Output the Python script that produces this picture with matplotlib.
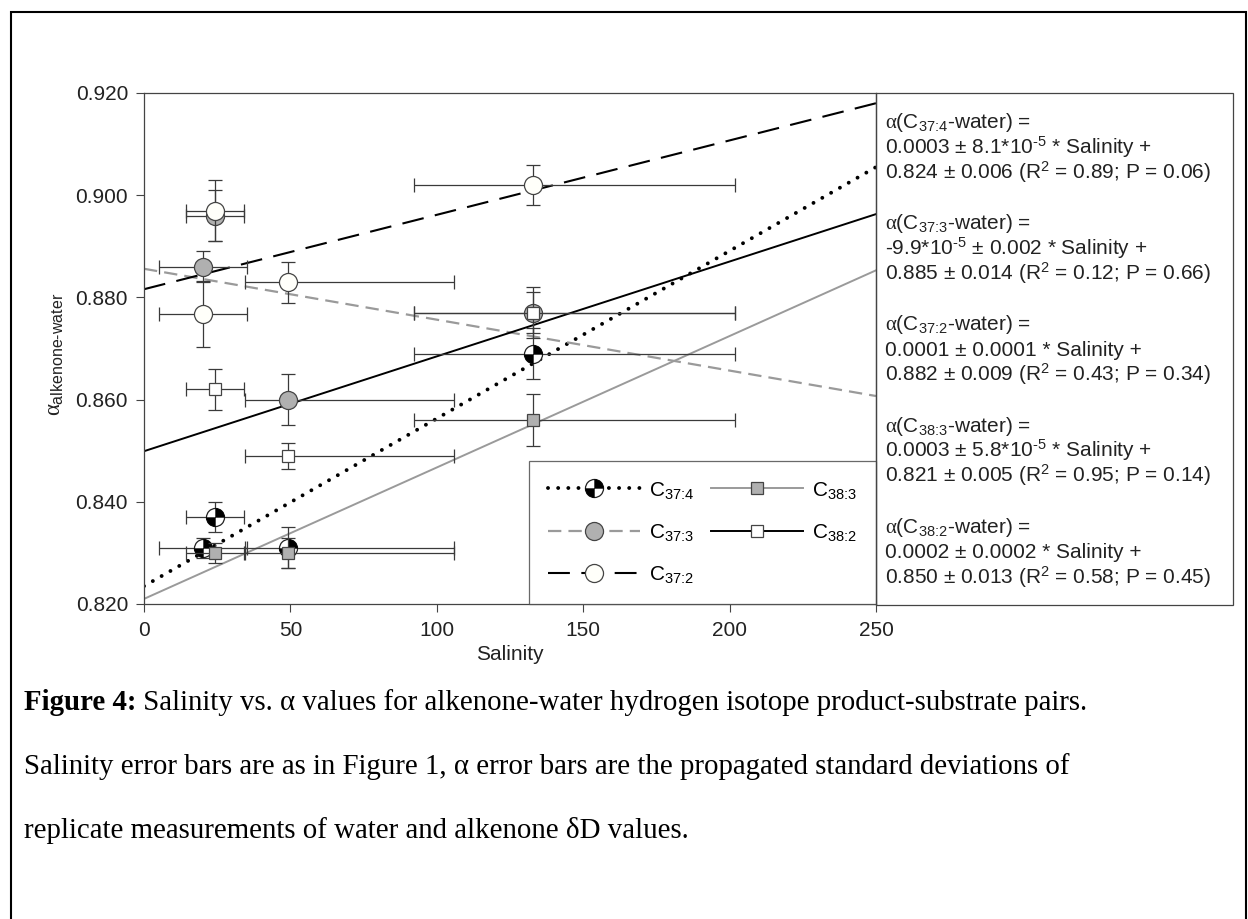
import matplotlib
matplotlib.use('Agg')
import matplotlib.pyplot as plt
from matplotlib.path import Path
from matplotlib.lines import Line2D
from matplotlib.patches import Rectangle
from matplotlib.legend_handler import HandlerTuple

plt.rcParams['font.family'] = ['Liberation Sans', 'DejaVu Sans']
plt.rcParams['mathtext.fontset'] = 'custom'
plt.rcParams['mathtext.rm'] = 'Liberation Sans'
plt.rcParams['mathtext.it'] = 'Liberation Serif'
plt.rcParams['mathtext.bf'] = 'Liberation Sans:bold'

# ---------------- data ----------------
sal_c37 = [20.2, 24.2, 49.2, 132.9]
sal_c38 = [24.2, 49.2, 132.9]
sal_err_lo_c37 = [15.0, 10.0, 14.7, 40.7]
sal_err_hi_c37 = [15.0, 10.0, 56.8, 69.0]
sal_err_lo_c38 = [10.0, 14.7, 40.7]
sal_err_hi_c38 = [10.0, 56.8, 69.0]

alpha_c374 = [0.831, 0.837, 0.831, 0.869]
err_c374 = [0.002, 0.003, 0.004, 0.005]
alpha_c373 = [0.886, 0.896, 0.860, 0.877]
err_c373 = [0.003, 0.005, 0.005, 0.005]
alpha_c372 = [0.8767, 0.897, 0.883, 0.902]
err_c372 = [0.0065, 0.006, 0.004, 0.004]
alpha_c383 = [0.830, 0.830, 0.856]
err_c383 = [0.002, 0.003, 0.005]
alpha_c382 = [0.862, 0.849, 0.877]
err_c382 = [0.004, 0.0025, 0.004]

fit_x = [0, 250]
fit_c374 = [0.8235, 0.9055]
fit_c373 = [0.8856, 0.8607]
fit_c372 = [0.8816, 0.9180]
fit_c383 = [0.8210, 0.8853]
fit_c382 = [0.8499, 0.8963]

legend_labels = [r'C$_{\text{37:4}}$', r'C$_{\text{37:3}}$', r'C$_{\text{37:2}}$',
                 r'C$_{\text{38:3}}$', r'C$_{\text{38:2}}$']

x_ticks = [0, 50, 100, 150, 200, 250]
y_ticks = [0.820, 0.840, 0.860, 0.880, 0.900, 0.920]

equation_lines = [
    r'$\alpha$(C$_{\text{37:4}}$-water) =',
    r'0.0003 ± 8.1*10$^{\text{-5}}$ * Salinity +',
    r'0.824 ± 0.006 (R$^{2}$ = 0.89; P = 0.06)',
    '',
    r'$\alpha$(C$_{\text{37:3}}$-water) =',
    r'-9.9*10$^{\text{-5}}$ ± 0.002 * Salinity +',
    r'0.885 ± 0.014 (R$^{2}$ = 0.12; P = 0.66)',
    '',
    r'$\alpha$(C$_{\text{37:2}}$-water) =',
    r'0.0001 ± 0.0001 * Salinity +',
    r'0.882 ± 0.009 (R$^{2}$ = 0.43; P = 0.34)',
    '',
    r'$\alpha$(C$_{\text{38:3}}$-water) =',
    r'0.0003 ± 5.8*10$^{\text{-5}}$ * Salinity +',
    r'0.821 ± 0.005 (R$^{2}$ = 0.95; P = 0.14)',
    '',
    r'$\alpha$(C$_{\text{38:2}}$-water) =',
    r'0.0002 ± 0.0002 * Salinity +',
    r'0.850 ± 0.013 (R$^{2}$ = 0.58; P = 0.45)',
]

caption_bold = 'Figure 4:'
caption_lines = [
    ' Salinity vs. α values for alkenone-water hydrogen isotope product-substrate pairs.',
    'Salinity error bars are as in Figure 1, α error bars are the propagated standard deviations of',
    'replicate measurements of water and alkenone δD values.',
]

# ---------------- figure ----------------
W, H = 1248, 919
fig = plt.figure(figsize=(W / 100, H / 100), dpi=100)
ax = fig.add_axes([144 / W, 1 - 604 / H, 732 / W, 511 / H])

EC = '#3a3a3a'
GRAY_FILL = '#b0b0b0'
GRAY_LINE = '#9a9a9a'
MS_C = 13
MS_S = 8
FS = 15

quarter_path = Path.make_compound_path(Path.wedge(0, 90), Path.wedge(180, 270))

# regression lines
ax.plot(fit_x, fit_c374, color='black', lw=2.8, ls=(0, (0.01, 2.6)),
        dash_capstyle='round', zorder=2)
ax.plot(fit_x, fit_c373, color=GRAY_LINE, lw=1.6, ls=(0, (6, 3.2)), zorder=2)
ax.plot(fit_x, fit_c372, color='black', lw=1.5, ls=(0, (10.5, 5.5)), zorder=2)
ax.plot(fit_x, fit_c383, color=GRAY_LINE, lw=1.4, zorder=2)
ax.plot(fit_x, fit_c382, color='black', lw=1.4, zorder=2)

eb_kw = dict(fmt='none', ecolor=EC, elinewidth=0.9, capsize=5, capthick=0.9)

series = [
    (sal_c37, alpha_c374, err_c374, sal_err_lo_c37, sal_err_hi_c37, 'q'),
    (sal_c37, alpha_c373, err_c373, sal_err_lo_c37, sal_err_hi_c37, 'gc'),
    (sal_c37, alpha_c372, err_c372, sal_err_lo_c37, sal_err_hi_c37, 'wc'),
    (sal_c38, alpha_c383, err_c383, sal_err_lo_c38, sal_err_hi_c38, 'gs'),
    (sal_c38, alpha_c382, err_c382, sal_err_lo_c38, sal_err_hi_c38, 'ws'),
]
z = 3
for xs, ys, ye, xlo, xhi, kind in series:
    ax.errorbar(xs, ys, xerr=[xlo, xhi], yerr=ye, zorder=z, **eb_kw)
    if kind == 'q':
        ax.plot(xs, ys, ls='none', marker='o', ms=MS_C, mfc='white', mec='#222', mew=0.9, zorder=z + 0.5)
        ax.plot(xs, ys, ls='none', marker=quarter_path, ms=MS_C, mfc='black', mec='black', mew=0.3, zorder=z + 0.6)
    elif kind == 'gc':
        ax.plot(xs, ys, ls='none', marker='o', ms=MS_C, mfc=GRAY_FILL, mec='#444', mew=0.9, zorder=z + 0.5)
    elif kind == 'wc':
        ax.plot(xs, ys, ls='none', marker='o', ms=MS_C, mfc='#fffffa', mec='#444', mew=0.9, zorder=z + 0.5)
    elif kind == 'gs':
        ax.plot(xs, ys, ls='none', marker='s', ms=MS_S, mfc=GRAY_FILL, mec='#444', mew=0.9, zorder=z + 0.5)
    else:
        ax.plot(xs, ys, ls='none', marker='s', ms=MS_S, mfc='white', mec='#444', mew=0.9, zorder=z + 0.5)
    z += 1

ax.set_xlim(0, 250)
ax.set_ylim(0.820, 0.920)
ax.set_xticks(x_ticks)
ax.set_xticklabels([str(t) for t in x_ticks])
ax.set_yticks(y_ticks)
ax.set_yticklabels(['%.3f' % t for t in y_ticks])
ax.tick_params(direction='out', length=5.5, width=0.8, color='#444', labelsize=FS,
               labelcolor='#222')
ax.tick_params(axis='y', pad=6)
ax.tick_params(axis='x', pad=7)
for sp in ax.spines.values():
    sp.set_color('#444')
    sp.set_linewidth(0.9)

ax.set_xlabel('Salinity', fontsize=FS, color='#222', labelpad=3)
fig.text(54 / W, 1 - 354 / H, r'$\alpha_{\text{alkenone-water}}$', rotation=90,
         ha='center', va='center', fontsize=16.5, color='#222')

# legend
h374 = (Line2D([], [], color='black', lw=2.8, ls=(0, (0.01, 2.6)), dash_capstyle='round',
               marker='o', ms=MS_C, mfc='white', mec='#222', mew=0.9),
        Line2D([], [], ls='none', marker=quarter_path, ms=MS_C, mfc='black', mec='black', mew=0.3))
h373 = Line2D([], [], color=GRAY_LINE, lw=1.6, ls=(0, (6, 3.2)), marker='o', ms=MS_C,
              mfc=GRAY_FILL, mec='#444', mew=0.9)
h372 = Line2D([], [], color='black', lw=1.5, ls=(0, (10.5, 5.5)), marker='o', ms=MS_C,
              mfc='#fffffa', mec='#444', mew=0.9)
h383 = Line2D([], [], color=GRAY_LINE, lw=1.4, marker='s', ms=MS_S, mfc=GRAY_FILL, mec='#444', mew=0.9)
h382 = Line2D([], [], color='black', lw=1.4, marker='s', ms=MS_S, mfc='white', mec='#444', mew=0.9)
leg = ax.legend([h374, h373, h372, h383, h382], legend_labels, ncol=2, loc='lower right',
                bbox_to_anchor=(1, 0), borderaxespad=0, fancybox=False, fontsize=FS,
                handlelength=4.4, handletextpad=0.45, columnspacing=0.8, labelspacing=1.02,
                borderpad=0.9, handler_map={tuple: HandlerTuple(ndivide=1)})
leg.get_frame().set_edgecolor('#444')
leg.get_frame().set_linewidth(0.9)
leg.set_zorder(20)

# equation box
fig.patches.append(Rectangle((876 / W, 1 - 605 / H), (1233 - 876) / W, (605 - 93) / H,
                             transform=fig.transFigure, fill=False, ec='#444', lw=0.9))
for i, line in enumerate(equation_lines):
    if line:
        fig.text(885 / W, 1 - (128 + i * 25.3) / H, line, ha='left', va='baseline',
                 fontsize=FS, color='#222')

# caption
CFS = 20.8
cap_baselines = [710, 774, 838]
tb = fig.text(24 / W, 1 - cap_baselines[0] / H, caption_bold, ha='left', va='baseline',
              fontsize=CFS, family='Liberation Serif', weight='bold', color='black')
ax.annotate(caption_lines[0], xy=(1, 0), xycoords=tb, ha='left', va='bottom',
            fontsize=CFS, family='Liberation Serif', color='black', annotation_clip=False)
for line, yb in zip(caption_lines[1:], cap_baselines[1:]):
    fig.text(24 / W, 1 - yb / H, line, ha='left', va='baseline', fontsize=CFS,
             family='Liberation Serif', color='black')

# outer frame
fig.patches.append(Rectangle((10.5 / W, -0.05), (1245.5 - 10.5) / W, 1.05 - 12.5 / H,
                             transform=fig.transFigure, fill=False, ec='black', lw=1.5))

fig.savefig('out.png', dpi=100)
